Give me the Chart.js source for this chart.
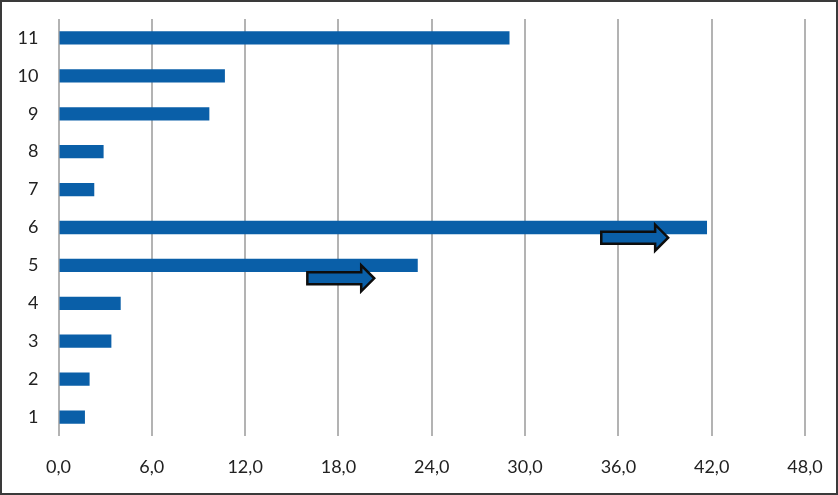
<!DOCTYPE html>
<html>
<head>
<meta charset="utf-8">
<script src="https://cdn.jsdelivr.net/npm/chart.js@4/dist/chart.umd.min.js"></script>
<style>
  html, body { margin: 0; padding: 0; background: #fff; }
  #wrap { width: 838px; height: 495px; }
</style>
</head>
<body>
<div id="wrap"><canvas id="barChart"></canvas></div>
<script>
const categories = ['1', '2', '3', '4', '5', '6', '7', '8', '9', '10', '11'];
const values = [1.7, 2.0, 3.4, 4.0, 23.1, 41.7, 2.3, 2.9, 9.7, 10.7, 29.0];
const xTicks = [0, 6, 12, 18, 24, 30, 36, 42, 48];

// block arrows drawn on top: [category, from, to]
const arrows = [['5', 16.0, 20.3], ['6', 34.9, 39.2]];

const blue = '#0a5fa8';
const font = { family: "'Lato', sans-serif", size: 18 };

const overlay = {
  id: 'overlay',
  afterDatasetsDraw(chart) {
    const { ctx, scales: { x, y } } = chart;
    const step = Math.abs(y.getPixelForValue(0) - y.getPixelForValue(1));
    arrows.forEach(([cat, from, to], i) => {
      const cy = y.getPixelForValue(categories.indexOf(cat)) + step * (i === 0 ? 0.34 : 0.27);
      const x0 = x.getPixelForValue(from), x1 = x.getPixelForValue(to);
      const hx = x1 - 13;
      ctx.save();
      ctx.beginPath();
      ctx.moveTo(x0, cy - 6);
      ctx.lineTo(hx, cy - 6);
      ctx.lineTo(hx, cy - 13);
      ctx.lineTo(x1, cy);
      ctx.lineTo(hx, cy + 13);
      ctx.lineTo(hx, cy + 6);
      ctx.lineTo(x0, cy + 6);
      ctx.closePath();
      ctx.fillStyle = blue;
      ctx.fill();
      ctx.lineWidth = 2.5;
      ctx.strokeStyle = '#0d0d0d';
      ctx.stroke();
      ctx.restore();
    });
  },
  afterDraw(chart) {
    const { ctx, width, height } = chart;
    ctx.save();
    ctx.strokeStyle = '#3a3a3a';
    ctx.lineWidth = 2;
    ctx.strokeRect(1, 1, width - 2, height - 2);
    ctx.restore();
  }
};

new Chart(document.getElementById('barChart'), {
  type: 'bar',
  data: {
    labels: categories,
    datasets: [{
      data: values,
      backgroundColor: blue,
      barPercentage: 0.35,
      categoryPercentage: 1
    }]
  },
  options: {
    indexAxis: 'y',
    responsive: true,
    maintainAspectRatio: false,
    animation: false,
    layout: { padding: { top: 19, right: 33, bottom: 0, left: 0 } },
    plugins: { legend: { display: false }, tooltip: { enabled: false } },
    scales: {
      x: {
        min: 0,
        max: 48,
        afterBuildTicks: (axis) => { axis.ticks = xTicks.map(v => ({ value: v })); },
        afterFit: (axis) => { axis.height = 59; axis.paddingLeft = 0; axis.paddingRight = 0; },
        border: { display: false },
        grid: { color: '#b3b3b3', lineWidth: 2, drawTicks: false },
        ticks: {
          padding: 20,
          color: '#222',
          font: font,
          callback: (v) => v.toFixed(1).replace('.', ',')
        }
      },
      y: {
        reverse: true,
        afterFit: (axis) => { axis.width = 58.5; axis.paddingTop = 0; axis.paddingBottom = 0; },
        border: { display: false },
        grid: { display: false, drawTicks: false },
        ticks: { padding: 20, color: '#222', font: font }
      }
    }
  },
  plugins: [overlay]
});
</script>
</body>
</html>
